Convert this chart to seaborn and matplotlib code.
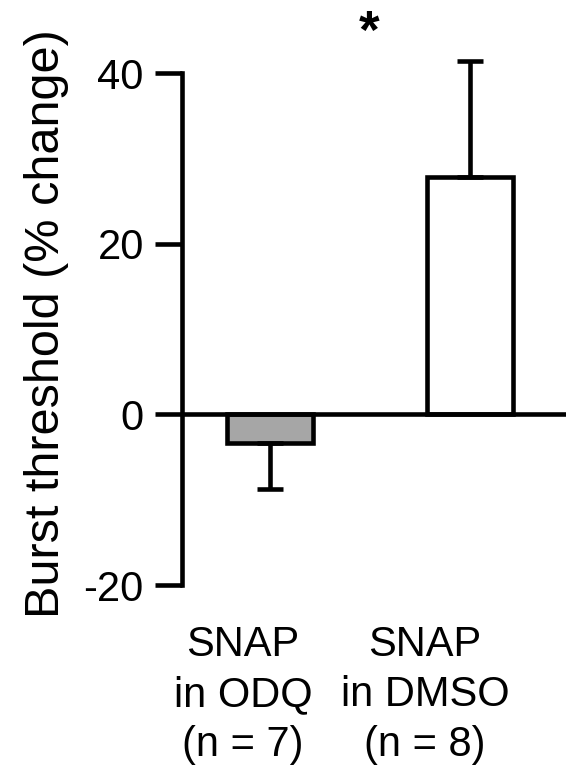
import numpy as np
import pandas as pd
import matplotlib
matplotlib.use('Agg')
import matplotlib.pyplot as plt
import seaborn as sns

# Data
groups = ['SNAP\nin ODQ\n(n = 7)', 'SNAP\nin DMSO\n(n = 8)']
means = [-3.3, 27.8]
sem = [5.5, 13.6]
bar_colors = ['#a6a6a6', '#ffffff']
sig_label = '*'

df = pd.DataFrame({'group': groups, 'mean': means})

sns.set_style('white')
plt.rcParams['font.family'] = ['Liberation Sans', 'DejaVu Sans']
plt.rcParams['axes.unicode_minus'] = False
plt.rcParams['text.color'] = 'black'

fig = plt.figure(figsize=(5.86, 7.79), dpi=100)
ax = fig.add_axes([0.3106, 0.2490, 0.6553, 0.7448])

lw = 3.3
sns.barplot(data=df, x='group', y='mean', hue='group', palette=bar_colors,
            width=0.43, edgecolor='black', linewidth=lw, legend=False,
            errorbar=None, ax=ax)

# one-sided error bars (away from zero)
lower = [s if m < 0 else 0 for m, s in zip(means, sem)]
upper = [s if m >= 0 else 0 for m, s in zip(means, sem)]
ax.errorbar(np.arange(len(means)), means, yerr=[lower, upper], fmt='none',
            ecolor='black', elinewidth=lw, capsize=9.7, capthick=lw, zorder=1)

ax.axhline(0, color='black', lw=lw, zorder=3)

ax.set_xlim(-0.44, 1.48)
ax.set_ylim(-20, 48)
ax.set_yticks([-20, 0, 20, 40])
ax.set_xticks([])
ax.set_xlabel('')
ax.set_ylabel('')

for s in ['top', 'right', 'bottom']:
    ax.spines[s].set_visible(False)
ax.spines['left'].set_bounds(-20, 40)
ax.spines['left'].set_linewidth(lw)
ax.spines['left'].set_color('black')
ax.tick_params(axis='y', direction='out', length=19.5, width=lw,
               pad=8, labelsize=30, colors='black', left=True)

# category labels under the plot
label_shift = [-0.135, -0.225]
for i, g in enumerate(groups):
    ax.text(i + label_shift[i], -24.7, g, ha='center', va='top',
            fontsize=30, linespacing=1.32, color='black', clip_on=False)

fig.text(47 / 586, 1 - 324 / 779, 'Burst threshold (% change)',
         rotation=90, ha='center', va='center', fontsize=35, color='black')

ax.text(0.495, 42.9, sig_label, ha='center', va='baseline', fontsize=38,
        fontweight='bold', color='black', clip_on=False)

fig.savefig('out.png', dpi=100)
